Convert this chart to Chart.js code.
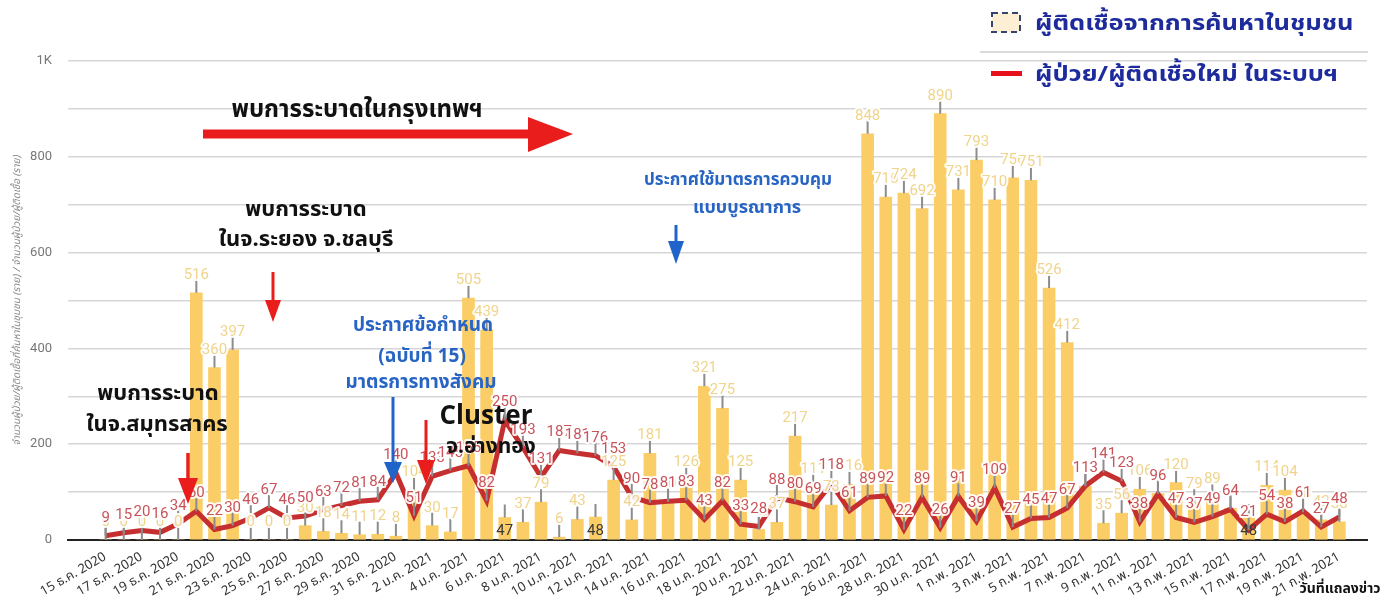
<!DOCTYPE html>
<html><head><meta charset="utf-8">
<script src="https://cdn.jsdelivr.net/npm/chart.js@4.4.1/dist/chart.umd.min.js"></script>
<style>
html,body{margin:0;padding:0;background:#fff;}
#wrap{position:relative;width:1381px;height:598px;overflow:hidden;background:#fff;}
#c{position:absolute;left:0;top:0;}
svg{position:absolute;left:0;top:0;}
.t{position:absolute;white-space:nowrap;font-family:"Noto Sans Thai","Noto Sans Thai UI","Loma","Garuda","Tahoma","Noto Sans","DejaVu Sans",sans-serif;font-weight:700;line-height:1;transform:translate(-50%,-50%);}
.l{transform-origin:0 50%;transform:translate(0,-50%) scaleX(1.16);}
.k{color:#111;}
.b{color:#2764c4;}
.n{color:#1d2b9c;}
</style></head><body>
<div id="wrap">
<canvas id="c" width="1381" height="598"></canvas>
<svg width="1381" height="598">
  <line x1="980" y1="52" x2="1368" y2="52" stroke="#cfcfcf" stroke-width="1.5"/>
  <rect x="992" y="13" width="28" height="19" fill="#fcefd3" stroke="#34446e" stroke-width="2" stroke-dasharray="6,4"/>
  <rect x="991" y="71" width="31" height="5" fill="#e8101a"/>
  <rect x="203" y="129.5" width="328" height="9" fill="#ea1d1d"/>
  <polygon points="528,117 573,134 528,152" fill="#ea1d1d"/>
  <line x1="273" y1="272" x2="273" y2="302" stroke="#ea1d1d" stroke-width="3"/>
  <polygon points="265,300 281,300 273,322" fill="#ea1d1d"/>
  <line x1="188" y1="453" x2="188" y2="480" stroke="#ea1d1d" stroke-width="3.5"/>
  <polygon points="178,478 198,478 188,504" fill="#ea1d1d"/>
  <line x1="393" y1="397" x2="393" y2="464" stroke="#1f64c8" stroke-width="3"/>
  <polygon points="384,462 402,462 393,483" fill="#1f64c8"/>
  <line x1="426" y1="420" x2="426" y2="462" stroke="#ea1d1d" stroke-width="3"/>
  <polygon points="417,460 435,460 426,484" fill="#ea1d1d"/>
  <line x1="676" y1="225" x2="676" y2="243" stroke="#1f64c8" stroke-width="3"/>
  <polygon points="668,241 684,241 676,264" fill="#1f64c8"/>
</svg>
<div class="t k" style="left:357px;top:110px;font-size:24px;">พบการระบาดในกรุงเทพฯ</div>
<div class="t k" style="left:306px;top:210px;font-size:22px;">พบการระบาด</div>
<div class="t k" style="left:306px;top:240px;font-size:22px;">ในจ.ระยอง จ.ชลบุรี</div>
<div class="t k" style="left:158px;top:394px;font-size:22px;">พบการระบาด</div>
<div class="t k" style="left:157px;top:425px;font-size:22px;">ในจ.สมุทรสาคร</div>
<div class="t b" style="left:423px;top:325px;font-size:19px;">ประกาศข้อกำหนด</div>
<div class="t b" style="left:422px;top:356px;font-size:19px;">(ฉบับที่ 15)</div>
<div class="t b" style="left:421px;top:382px;font-size:19px;">มาตรการทางสังคม</div>
<div class="t k" style="left:486px;top:414px;font-size:26px;font-family:'Open Sans','Inter',sans-serif;">Cluster</div>
<div class="t k" style="left:491px;top:446px;font-size:21px;">จ.อ่างทอง</div>
<div class="t b" style="left:738px;top:180px;font-size:17px;">ประกาศใช้มาตรการควบคุม</div>
<div class="t b" style="left:747px;top:208px;font-size:18px;">แบบบูรณาการ</div>
<div class="t l n" style="left:1035px;top:24px;font-size:22px;">ผู้ติดเชื้อจากการค้นหาในชุมชน</div>
<div class="t l n" style="left:1035px;top:75px;font-size:22px;">ผู้ป่วย/ผู้ติดเชื้อใหม่ ในระบบฯ</div>
<div class="t k" style="left:1340px;top:589px;font-size:14px;">วันที่แถลงข่าว</div>
</div>
<script>
const dayLabels = [
 "15 ธ.ค. 2020","16 ธ.ค. 2020","17 ธ.ค. 2020","18 ธ.ค. 2020","19 ธ.ค. 2020","20 ธ.ค. 2020","21 ธ.ค. 2020","22 ธ.ค. 2020","23 ธ.ค. 2020","24 ธ.ค. 2020","25 ธ.ค. 2020","26 ธ.ค. 2020","27 ธ.ค. 2020","28 ธ.ค. 2020","29 ธ.ค. 2020","30 ธ.ค. 2020","31 ธ.ค. 2020",
 "1 ม.ค. 2021","2 ม.ค. 2021","3 ม.ค. 2021","4 ม.ค. 2021","5 ม.ค. 2021","6 ม.ค. 2021","7 ม.ค. 2021","8 ม.ค. 2021","9 ม.ค. 2021","10 ม.ค. 2021","11 ม.ค. 2021","12 ม.ค. 2021","13 ม.ค. 2021","14 ม.ค. 2021","15 ม.ค. 2021","16 ม.ค. 2021","17 ม.ค. 2021","18 ม.ค. 2021","19 ม.ค. 2021","20 ม.ค. 2021","21 ม.ค. 2021","22 ม.ค. 2021","23 ม.ค. 2021","24 ม.ค. 2021","25 ม.ค. 2021","26 ม.ค. 2021","27 ม.ค. 2021","28 ม.ค. 2021","29 ม.ค. 2021","30 ม.ค. 2021","31 ม.ค. 2021",
 "1 ก.พ. 2021","2 ก.พ. 2021","3 ก.พ. 2021","4 ก.พ. 2021","5 ก.พ. 2021","6 ก.พ. 2021","7 ก.พ. 2021","8 ก.พ. 2021","9 ก.พ. 2021","10 ก.พ. 2021","11 ก.พ. 2021","12 ก.พ. 2021","13 ก.พ. 2021","14 ก.พ. 2021","15 ก.พ. 2021","16 ก.พ. 2021","17 ก.พ. 2021","18 ก.พ. 2021","19 ก.พ. 2021","20 ก.พ. 2021","21 ก.พ. 2021"
];
// community-found infections (bars)
const communityCases = [
 0,0,0,0,0,516,360,397,0,0,0,30,18,14,11,12,8,
 104,30,17,505,439,47,37,79,6,43,48,125,42,181,80,126,321,275,125,22,37,217,111,73,116,848,716,724,692,890,731,
 793,710,756,751,526,412,112,35,56,106,97,120,79,89,66,48,114,104,58,42,38
];
// new patients/infections in the system (line)
const newCases = [
 9,15,20,16,34,60,22,30,46,67,46,50,63,72,81,84,140,
 51,133,145,155,82,250,193,131,187,181,176,153,90,78,81,83,43,82,33,28,88,80,69,118,61,89,92,22,89,26,91,
 39,109,27,45,47,67,113,141,123,38,96,47,37,49,64,21,54,38,61,27,48
];
const tickDays = dayLabels.map((d,i)=>i).filter(i=>i%2===0);
const insideLabelDays = [22,27,63];
const yTitle = "จำนวนผู้ป่วย/ผู้ติดเชื้อที่ค้นหาในชุมชน (ราย) / จำนวนผู้ป่วย/ผู้ติดเชื้อ (ราย)";
const thaiFont = '"Noto Sans Thai","Loma","Garuda","Tahoma","Noto Sans","DejaVu Sans",sans-serif';

const valueLabels = {
  id:'valueLabels',
  afterDatasetsDraw(chart){
    const ctx = chart.ctx;
    const lineMeta = chart.getDatasetMeta(0), barMeta = chart.getDatasetMeta(1);
    ctx.save();
    ctx.strokeStyle = '#8c8c8c'; ctx.lineWidth = 2;
    [barMeta, lineMeta].forEach(m => m.data.forEach(el => {
      ctx.beginPath(); ctx.moveTo(el.x, el.y); ctx.lineTo(el.x, el.y - 13); ctx.stroke();
    }));
    ctx.font = '15px Roboto, "Open Sans", sans-serif';
    ctx.textAlign = 'center'; ctx.textBaseline = 'alphabetic'; ctx.lineJoin = 'round';
    function lab(text, x, y, color, halo){
      if (halo){ ctx.lineWidth = 4; ctx.strokeStyle = 'rgba(255,255,255,0.92)'; ctx.strokeText(text, x, y); }
      ctx.fillStyle = color; ctx.fillText(text, x, y);
    }
    barMeta.data.forEach((el,i) => {
      if (insideLabelDays.includes(i)) lab(String(communityCases[i]), el.x, el.base - 4, '#3a3a3a', false);
      else lab(String(communityCases[i]), el.x, el.y - 14, '#f0d48c', true);
    });
    lineMeta.data.forEach((el,i) => lab(String(newCases[i]), el.x, el.y - 14, '#c9535b', true));
    ctx.restore();
  }
};

new Chart(document.getElementById('c').getContext('2d'), {
  data: {
    datasets: [
      { type:'line', label:'ผู้ป่วย/ผู้ติดเชื้อใหม่ ในระบบฯ', data: newCases.map((v,i)=>({x:i,y:v})),
        borderColor:'#c62f2f', borderWidth:5, pointRadius:0, tension:0, order:0 },
      { type:'bar', label:'ผู้ติดเชื้อจากการค้นหาในชุมชน', data: communityCases.map((v,i)=>({x:i,y:v})),
        backgroundColor:'#fbcd66', barThickness:12, order:1 }
    ]
  },
  options: {
    responsive:false, animation:false,
    layout:{ padding:{ left:0, right:14, top:61, bottom:0 } },
    plugins:{ legend:{ display:false }, tooltip:{ enabled:false } },
    scales:{
      x:{
        type:'linear', min:-1.05, max:68.5,
        afterBuildTicks: s => { s.ticks = tickDays.map(v => ({ value:v })); },
        afterFit: s => { s.height = 58; },
        ticks:{ autoSkip:false, minRotation:30, maxRotation:30, padding:2, color:'#333',
          font:{ size:13, family:thaiFont }, callback: v => dayLabels[v] },
        grid:{ display:false },
        border:{ display:true, color:'#222', width:2 }
      },
      y:{
        min:0, max:1000,
        afterFit: s => { s.width = 68; },
        ticks:{ stepSize:100, color:'#777', padding:16, font:{ size:13, family:'Roboto, sans-serif' },
          callback: v => (v % 200 === 0 ? (v === 1000 ? '1K' : String(v)) : '') },
        grid:{ color:'#d6d6d6', lineWidth:1.5, drawTicks:false },
        border:{ display:false },
        title:{ display:true, text:yTitle, color:'#888', padding:{ top:12, bottom:0 },
          font:{ size:10, style:'italic', family:thaiFont } }
      }
    }
  },
  plugins:[valueLabels]
});
</script>
</body></html>
